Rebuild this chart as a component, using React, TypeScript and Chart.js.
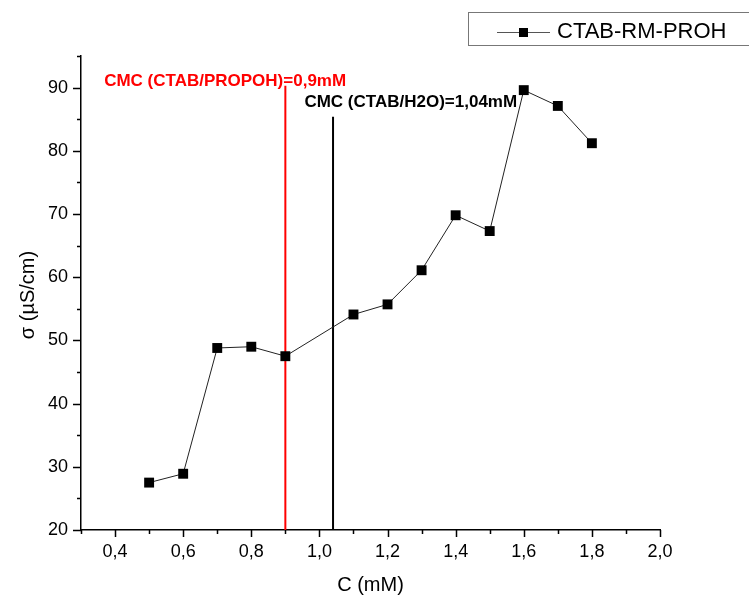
import React, { useEffect, useRef } from 'react';
import { Chart, registerables } from 'chart.js';

Chart.register(...registerables);

// ---- data ----
const concentrations = [0.5, 0.6, 0.7, 0.8, 0.9, 1.1, 1.2, 1.3, 1.4, 1.5, 1.6, 1.7, 1.8];
const conductivity = [27.5, 28.9, 48.8, 49.0, 47.5, 54.1, 55.7, 61.1, 69.8, 67.3, 89.6, 87.1, 81.2];
const seriesLabel = 'CTAB-RM-PROH';

const xMajorTicks = [0.4, 0.6, 0.8, 1.0, 1.2, 1.4, 1.6, 1.8, 2.0];
const xMinorTicks = [0.3, 0.5, 0.7, 0.9, 1.1, 1.3, 1.5, 1.7, 1.9];
const yMajorTicks = [20, 30, 40, 50, 60, 70, 80, 90];
const yMinorTicks = [25, 35, 45, 55, 65, 75, 85, 95];

const cmcPropohX = [0.9, 0.9];
const cmcPropohY = [20, 90.3];
const cmcWaterX = [1.04, 1.04];
const cmcWaterY = [20, 85.4];
const cmcPropohLabel = 'CMC (CTAB/PROPOH)=0,9mM';
const cmcWaterLabel = 'CMC (CTAB/H2O)=1,04mM';
const cmcPropohLabelAt = [0.368, 91.0];
const cmcWaterLabelAt = [0.956, 87.6];

const xTitle = 'C (mM)';
const yTitle = 'σ (µS/cm)';

const FONT = '"Liberation Sans", Arial, sans-serif';

const overlayPlugin = {
  id: 'overlay',
  afterDraw(chart: any) {
    const { ctx, chartArea, scales } = chart;
    const xs = scales.x;
    const ys = scales.y;
    ctx.save();
    // ticks
    ctx.strokeStyle = '#000';
    ctx.lineWidth = 1.5;
    ctx.beginPath();
    xMajorTicks.forEach((v) => {
      const px = Math.round(xs.getPixelForValue(v)) + 0.5;
      ctx.moveTo(px, chartArea.bottom);
      ctx.lineTo(px, chartArea.bottom + 7);
    });
    xMinorTicks.forEach((v) => {
      const px = Math.round(xs.getPixelForValue(v)) + 0.5;
      ctx.moveTo(px, chartArea.bottom);
      ctx.lineTo(px, chartArea.bottom + 4);
    });
    yMajorTicks.forEach((v) => {
      const py = Math.round(ys.getPixelForValue(v)) + 0.5;
      ctx.moveTo(chartArea.left, py);
      ctx.lineTo(chartArea.left - 8, py);
    });
    yMinorTicks.forEach((v) => {
      const py = Math.round(ys.getPixelForValue(v)) + 0.5;
      ctx.moveTo(chartArea.left, py);
      ctx.lineTo(chartArea.left - 4, py);
    });
    ctx.stroke();

    // annotations
    ctx.textBaseline = 'middle';
    ctx.textAlign = 'left';
    ctx.font = `bold 17px ${FONT}`;
    ctx.fillStyle = '#ff0000';
    ctx.fillText(cmcPropohLabel, xs.getPixelForValue(cmcPropohLabelAt[0]), ys.getPixelForValue(cmcPropohLabelAt[1]));
    ctx.fillStyle = '#000';
    ctx.fillText(cmcWaterLabel, xs.getPixelForValue(cmcWaterLabelAt[0]), ys.getPixelForValue(cmcWaterLabelAt[1]));

    // titles
    ctx.font = `20px ${FONT}`;
    ctx.textAlign = 'center';
    ctx.fillStyle = '#000';
    ctx.fillText(xTitle, (chartArea.left + chartArea.right) / 2, 585);
    ctx.save();
    ctx.translate(28, 295);
    ctx.rotate(-Math.PI / 2);
    ctx.fillText(yTitle, 0, 0);
    ctx.restore();

    // legend
    ctx.strokeStyle = '#777';
    ctx.lineWidth = 1;
    ctx.strokeRect(468.5, 12.5, 300, 33);
    ctx.strokeStyle = '#555';
    ctx.beginPath();
    ctx.moveTo(497, 32.5);
    ctx.lineTo(550, 32.5);
    ctx.stroke();
    ctx.fillStyle = '#000';
    ctx.fillRect(519, 28, 9, 9);
    ctx.font = `22px ${FONT}`;
    ctx.textAlign = 'left';
    ctx.fillText(seriesLabel, 557, 32);
    ctx.restore();
  },
};

export default function App() {
  const ref = useRef<HTMLCanvasElement | null>(null);
  useEffect(() => {
    if (!ref.current) return;
    const chart = new Chart(ref.current, {
      type: 'line',
      data: {
        datasets: [
          {
            label: seriesLabel,
            data: concentrations.map((x, i) => ({ x, y: conductivity[i] })),
            borderColor: '#222',
            borderWidth: 1,
            pointStyle: 'rect',
            pointRadius: 7,
            pointBackgroundColor: '#000',
            pointBorderColor: '#000',
            pointBorderWidth: 0,
            tension: 0,
          },
          {
            label: 'cmc-propoh',
            data: cmcPropohX.map((x, i) => ({ x, y: cmcPropohY[i] })),
            borderColor: '#ff0000',
            borderWidth: 2,
            pointRadius: 0,
          },
          {
            label: 'cmc-water',
            data: cmcWaterX.map((x, i) => ({ x, y: cmcWaterY[i] })),
            borderColor: '#000',
            borderWidth: 2,
            pointRadius: 0,
          },
        ],
      },
      options: {
        animation: false,
        responsive: false,
        devicePixelRatio: 1,
        layout: { padding: { left: 0, top: 56, right: 89, bottom: 0 } },
        plugins: { legend: { display: false }, tooltip: { enabled: false } },
        scales: {
          x: {
            type: 'linear',
            min: 0.3,
            max: 2.0,
            afterBuildTicks: (s: any) => {
              s.ticks = xMajorTicks.map((v) => ({ value: v }));
            },
            afterFit: (s: any) => {
              s.height = 70;
            },
            grid: { display: false, drawTicks: false },
            border: { display: true, color: '#000', width: 1.5 },
            ticks: {
              padding: 11,
              color: '#000',
              font: { family: FONT, size: 18 },
              callback: (v: any) => Number(v).toFixed(1).replace('.', ','),
              maxRotation: 0,
              autoSkip: false,
            },
          },
          y: {
            type: 'linear',
            min: 20,
            max: 95,
            afterBuildTicks: (s: any) => {
              s.ticks = yMajorTicks.map((v) => ({ value: v }));
            },
            afterFit: (s: any) => {
              s.width = 81;
            },
            grid: { display: false, drawTicks: false },
            border: { display: true, color: '#000', width: 1.5 },
            ticks: {
              padding: 13,
              color: '#000',
              font: { family: FONT, size: 18 },
              callback: (v: any) => String(v),
              autoSkip: false,
            },
          },
        },
      },
      plugins: [overlayPlugin],
    });
    return () => chart.destroy();
  }, []);
  return (
    <div style={{ position: 'absolute', left: 0, top: 0, width: 749, height: 600, background: '#fff' }}>
      <canvas ref={ref} width={749} height={600} style={{ display: 'block' }} />
    </div>
  );
}
